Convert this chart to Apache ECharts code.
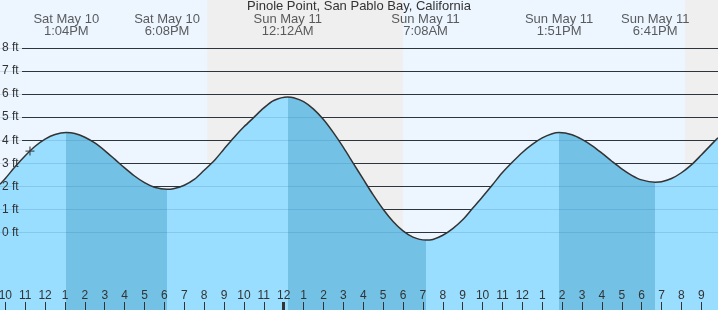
<!DOCTYPE html>
<html><head><meta charset="utf-8">
<script src="https://cdn.jsdelivr.net/npm/echarts@6/dist/echarts.min.js"></script>
<style>html,body{margin:0;padding:0;background:#fff}#c{width:718px;height:310px}</style>
</head><body><div id="c"></div>
<script>
// ---- data ----
const chartTitle = 'Pinole Point, San Pablo Bay, California';
// hours counted from Sat May 10 00:00, water level in ft
const hours  = [9.733, 10, 10.5, 11, 11.5, 12, 12.5, 13.067, 13.5, 14, 14.5, 15, 15.5, 16, 16.5, 17, 17.5, 18.133,
                18.5, 19, 19.5, 20, 20.5, 21, 21.5, 22, 22.5, 23, 23.5, 24.2, 24.5, 25, 25.5, 26, 26.5, 27, 27.5, 28,
                28.5, 29, 29.5, 30, 30.5, 31.133, 31.5, 32, 32.5, 33, 33.5, 34, 34.5, 35, 35.5, 36, 36.5, 37, 37.5, 37.85,
                38.5, 39, 39.5, 40, 40.5, 41, 41.5, 42, 42.683, 43, 43.5, 44, 44.5, 45, 45.5, 45.84];
const levels = [2.09, 2.34, 2.86, 3.33, 3.74, 4.05, 4.25, 4.33, 4.29, 4.13, 3.88, 3.55, 3.18, 2.80, 2.45, 2.16, 1.96, 1.87,
                1.91, 2.05, 2.30, 2.70, 3.11, 3.62, 4.12, 4.58, 4.99, 5.40, 5.72, 5.87, 5.84, 5.67, 5.35, 4.90, 4.33, 3.69, 3.00, 2.31,
                1.63, 1.01, 0.48, 0.07, -0.20, -0.33, -0.30, -0.12, 0.17, 0.55, 1.05, 1.55, 2.07, 2.60, 3.05, 3.47, 3.82, 4.10, 4.28, 4.33,
                4.24, 4.04, 3.77, 3.44, 3.09, 2.76, 2.48, 2.28, 2.18, 2.20, 2.34, 2.59, 2.93, 3.36, 3.81, 4.11];
const eventHours  = [13.067, 18.133, 24.2, 31.133, 37.85, 42.683];
const eventLevels = [4.33, 1.87, 5.87, -0.33, 4.33, 2.18];
const eventDays   = ['Sat May 10', 'Sat May 10', 'Sun May 11', 'Sun May 11', 'Sun May 11', 'Sun May 11'];
const eventClock  = ['1:04PM', '6:08PM', '12:12AM', '7:08AM', '1:51PM', '6:41PM'];
const nightStarts = [20.15, 44.18];
const nightEnds   = [30.0, 45.84];
const tickHours = [10,11,12,13,14,15,16,17,18,19,20,21,22,23,24,25,26,27,28,29,30,31,32,33,34,35,36,37,38,39,40,41,42,43,44,45];
const midnightTicks = [24];
const ftTicks = [0,1,2,3,4,5,6,7,8];
const nowHour = [11.24];
const nowLevel = [3.53];

// ---- layout / style ----
const XMIN = 9.733, XMAX = 45.84, YMIN = -3.359, YMAX = 10.078;
const LABEL_Y = 8.97;
const FONT = 'Liberation Sans';
const TXT = '#333';
const LIGHT = '#99ddff', DARK = '#73c2e6';

// rising segments light, falling segments dark
const pieces = [];
for (let i = 0; i <= eventHours.length; i++) {
  let rising;
  if (i < eventHours.length) rising = i === 0 ? eventLevels[0] > eventLevels[1] : eventLevels[i] > eventLevels[i - 1];
  else rising = eventLevels[i - 1] < eventLevels[i - 2];
  const p = { color: rising ? LIGHT : DARK };
  if (i > 0) p.gte = eventHours[i - 1];
  if (i < eventHours.length) p.lt = eventHours[i];
  pieces.push(p);
}

const chart = echarts.init(document.getElementById('c'));
chart.setOption({
  animation: false,
  backgroundColor: '#edf6ff',
  title: { text: chartTitle, left: 'center', top: 0, padding: 0,
    textStyle: { fontFamily: FONT, fontSize: 13, fontWeight: 'normal', color: TXT } },
  grid: { left: 0, right: 0, top: 0, bottom: 0, containLabel: false, outerBoundsMode: 'none' },
  xAxis: [
    { type: 'value', min: XMIN, max: XMAX, z: 6, position: 'bottom',
      axisLine: { show: false, onZero: false }, splitLine: { show: false },
      axisTick: { show: true, inside: true, length: 8, customValues: tickHours, lineStyle: { color: TXT, width: 1 } },
      axisLabel: { show: true, inside: true, margin: 8, customValues: tickHours,
        fontFamily: FONT, fontSize: 12, color: TXT, hideOverlap: false,
        formatter: v => String((Math.round(v) % 12) || 12) } },
    { type: 'value', min: XMIN, max: XMAX, position: 'bottom', z: 6,
      axisLine: { show: false, onZero: false }, splitLine: { show: false }, axisLabel: { show: false },
      axisTick: { show: true, inside: true, length: 8, customValues: midnightTicks, lineStyle: { color: TXT, width: 3 } } }
  ],
  yAxis: { type: 'value', min: YMIN, max: YMAX, z: 6,
    axisLine: { show: false, onZero: false }, axisTick: { show: false }, splitLine: { show: false },
    axisLabel: { show: true, inside: true, margin: 2, customValues: ftTicks,
      fontFamily: FONT, fontSize: 12, color: TXT, formatter: v => v + ' ft' } },
  visualMap: { type: 'piecewise', show: false, dimension: 0, seriesIndex: 1, pieces: pieces },
  series: [
    { type: 'line', name: 'bg', data: [], z: 1, silent: true,
      markArea: { silent: true, z: 0, itemStyle: { color: '#efefef' },
        data: nightStarts.map((s, i) => [{ xAxis: s }, { xAxis: nightEnds[i] }]) },
      markLine: { silent: true, z: 1, symbol: 'none', label: { show: false },
        lineStyle: { color: '#333', width: 1, type: 'solid' },
        emphasis: { disabled: true },
        data: ftTicks.map(v => [{ coord: [XMIN, v], x: 22 }, { coord: [XMAX, v] }]) } },
    { type: 'line', name: 'tide', z: 2, silent: true,
      data: hours.map((h, i) => [h, levels[i]]),
      smooth: 0.3, showSymbol: false,
      lineStyle: { color: '#333', width: 1.5 },
      areaStyle: { opacity: 1, origin: 'start' },
      markLine: { silent: true, z: 3, symbol: 'none', label: { show: false },
        lineStyle: { color: 'rgba(0,60,120,0.13)', width: 1, type: 'solid' },
        emphasis: { disabled: true },
        data: ftTicks.map(v => [{ coord: [XMIN, v] }, { coord: [XMAX, v] }]) } },
    { type: 'scatter', name: 'now', z: 4, silent: true,
      data: nowHour.map((h, i) => [h, nowLevel[i]]),
      symbol: 'path://M0,5L10,5M5,0L5,10', symbolSize: 9,
      itemStyle: { color: 'none', borderColor: '#333', borderWidth: 1.3 } },
    { type: 'scatter', name: 'events', z: 5, silent: true,
      data: eventHours.map(h => [h, LABEL_Y]),
      symbolSize: 0,
      label: { show: true, position: 'inside', fontFamily: FONT, fontSize: 13, color: TXT, lineHeight: 12,
        formatter: p => eventDays[p.dataIndex] + '\n' + eventClock[p.dataIndex] } }
  ]
});
</script></body></html>
